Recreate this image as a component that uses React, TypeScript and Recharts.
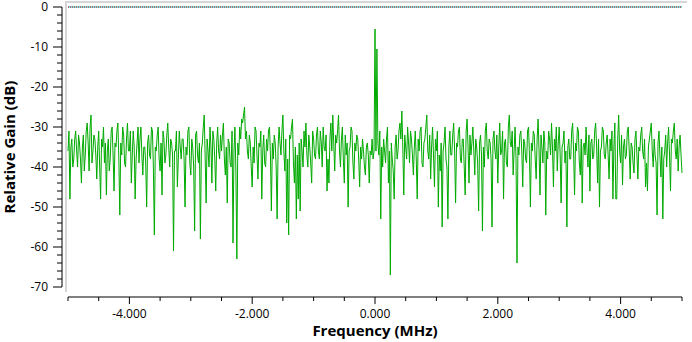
import { LineChart, Line, XAxis, YAxis, ReferenceLine } from "recharts";

// FFT bins span -5 .. +5 MHz, 641 bins
const FREQ_START = -5;
const FREQ_END = 5;

const GAIN_DB = [
  -36, -31, -48, -35, -33, -40, -38, -33, -31, -36, -40, -32, -34, -38, -44, -35, -32, -41, -37, -31, -29, -34, -41, -30, -27, -39, -36, -32, -33, -37, -43, -35, -31, -40, -48, -33, -35, -30, -39, -34,
  -47, -36, -33, -41, -38, -31, -30, -37, -46, -34, -35, -31, -29, -38, -52, -34, -37, -30, -32, -39, -40, -33, -29, -36, -36, -31, -44, -37, -31, -35, -48, -38, -34, -30, -39, -33, -30, -37, -42, -35,
  -35, -39, -50, -34, -32, -37, -38, -30, -31, -40, -57, -35, -36, -32, -30, -38, -41, -34, -47, -31, -33, -39, -37, -32, -29, -35, -40, -33, -34, -37, -61, -36, -36, -31, -45, -38, -31, -35, -38, -33,
  -33, -38, -50, -35, -37, -31, -30, -39, -42, -33, -35, -40, -56, -32, -31, -37, -39, -34, -58, -36, -34, -30, -27, -38, -49, -33, -36, -40, -30, -35, -44, -31, -33, -38, -46, -34, -30, -36, -38, -32,
  -36, -32, -29, -38, -42, -35, -49, -33, -34, -39, -40, -31, -59, -36, -30, -41, -63, -34, -37, -30, -33, -28, -29, -27, -25, -33, -31, -36, -38, -32, -34, -40, -45, -35, -39, -30, -31, -37, -43, -34,
  -35, -31, -48, -36, -32, -39, -40, -33, -36, -31, -30, -37, -51, -34, -38, -32, -34, -40, -53, -35, -30, -34, -37, -31, -27, -36, -41, -33, -54, -38, -57, -32, -33, -30, -28, -39, -44, -35, -53, -37,
  -48, -34, -51, -33, -36, -40, -31, -35, -29, -37, -40, -32, -35, -39, -44, -31, -33, -37, -38, -32, -30, -36, -38, -31, -34, -40, -30, -35, -36, -32, -46, -38, -44, -33, -29, -36, -27, -34, -41, -32,
  -34, -31, -27, -36, -40, -33, -30, -38, -44, -32, -37, -34, -50, -36, -35, -30, -31, -39, -43, -34, -36, -32, -33, -38, -45, -35, -38, -33, -36, -40, -42, -35, -34, -37, -44, -36, -37, -33, -38, -36,
  -5.5, -36, -10.5, -34, -37, -31, -53, -35, -40, -33, -36, -39, -33, -30, -44, -36, -67, -34, -38, -41, -48, -35, -32, -38, -36, -31, -29, -33, -26, -35, -47, -32, -35, -38, -30, -34, -39, -31, -33, -37,
  -42, -35, -31, -38, -48, -33, -36, -31, -30, -39, -40, -34, -33, -30, -27, -36, -38, -32, -43, -35, -30, -37, -45, -33, -36, -31, -50, -37, -41, -34, -55, -36, -34, -30, -38, -40, -53, -35, -31, -37,
  -37, -32, -29, -36, -49, -34, -35, -31, -30, -38, -39, -33, -33, -40, -47, -31, -28, -35, -44, -32, -37, -34, -30, -36, -42, -33, -35, -39, -51, -34, -32, -37, -56, -35, -40, -31, -29, -36, -38, -33,
  -34, -38, -55, -33, -31, -36, -38, -32, -44, -35, -29, -37, -36, -31, -48, -34, -33, -39, -40, -30, -27, -34, -35, -31, -42, -36, -30, -38, -64, -35, -37, -32, -31, -36, -45, -33, -34, -38, -39, -31,
  -30, -37, -50, -34, -36, -31, -32, -38, -43, -33, -28, -36, -47, -32, -35, -39, -31, -34, -52, -36, -38, -31, -33, -37, -29, -35, -45, -33, -36, -30, -41, -34, -30, -37, -49, -35, -34, -31, -39, -36,
  -55, -35, -33, -38, -38, -31, -29, -36, -47, -34, -36, -30, -31, -39, -42, -33, -49, -35, -34, -37, -30, -36, -40, -32, -46, -34, -33, -38, -37, -31, -29, -35, -44, -33, -50, -36, -35, -30, -31, -37,
  -38, -34, -32, -37, -43, -33, -36, -31, -48, -35, -29, -48, -48, -33, -27, -36, -39, -32, -44.5, -35, -33, -38, -37, -31, -30, -36, -43, -34, -35, -39, -41.5, -33, -31, -37, -43, -35, -36, -32, -30, -36,
  -38, -33, -45, -39, -46, -35, -33, -31, -29, -36, -40, -33, -37, -39, -52, -34, -31, -37, -42.5, -35, -53, -38, -36, -32, -40, -34, -30, -37, -46, -33, -34, -31, -29, -36, -38, -33, -41, -35, -32, -37, -41.5,
];

const X_TICKS = [
  -5, -4.5, -4, -3.5, -3, -2.5, -2, -1.5, -1, -0.5, 0, 0.5, 1, 1.5, 2, 2.5, 3, 3.5, 4, 4.5, 5,
];
const X_LABELS = [-4, -2, 0, 2, 4];

const Y_TICKS = [
  0, -2, -4, -6, -8, -10, -12, -14, -16, -18, -20, -22, -24, -26, -28, -30, -32, -34, -36,
  -38, -40, -42, -44, -46, -48, -50, -52, -54, -56, -58, -60, -62, -64, -66, -68, -70,
];

const data = GAIN_DB.map((gain, i) => ({
  freq: FREQ_START + (i * (FREQ_END - FREQ_START)) / (GAIN_DB.length - 1),
  gain,
}));

const tickFont = { fontFamily: "'Open Sans', sans-serif", fontSize: 12, fill: "#000" };

const XTick = (props: any) => {
  const { x, y, payload } = props;
  const major = X_LABELS.includes(payload.value);
  return (
    <g>
      <line x1={x} x2={x} y1={y + 10} y2={y + (major ? 17 : 14)} stroke="#000" />
      {major && (
        <text x={x} y={y + 31} textAnchor="middle" {...tickFont}>
          {payload.value.toFixed(3)}
        </text>
      )}
    </g>
  );
};

const YTick = (props: any) => {
  const { x, y, payload } = props;
  const major = payload.value % 10 === 0;
  return (
    <g>
      <line x1={x - 6} x2={x - (major ? 15 : 11)} y1={y} y2={y} stroke="#000" />
      {major && (
        <text x={x - 20} y={y + 4} textAnchor="end" {...tickFont}>
          {payload.value}
        </text>
      )}
    </g>
  );
};

export default function App() {
  return (
    <div style={{ position: "absolute", left: 0, top: 0, width: 692, height: 342, background: "#fff" }}>
      <div
        style={{
          position: "absolute",
          left: 65,
          top: 1,
          width: 622,
          height: 291,
          boxSizing: "border-box",
          borderLeft: "2px solid #d6d6d6",
          borderTop: "2px solid #d6d6d6",
        }}
      />
      <div style={{ position: "absolute", left: 0, top: 0 }}>
        <LineChart width={692} height={342} data={data} margin={{ top: 7, right: 10, left: 0, bottom: 0 }}>
          <XAxis
            type="number"
            dataKey="freq"
            domain={[FREQ_START, FREQ_END]}
            ticks={X_TICKS}
            interval={0}
            height={55}
            tickSize={0}
            tickMargin={0}
            tickLine={false}
            tick={<XTick />}
            axisLine={{ stroke: "#000", transform: "translate(0,10)" } as any}
            label={{
              value: "Frequency (MHz)",
              position: "insideBottom",
              offset: 6,
              style: { fontFamily: "'Open Sans', sans-serif", fontSize: 15, fontWeight: 700, fill: "#000" },
            }}
          />
          <YAxis
            type="number"
            domain={[-70, 0]}
            ticks={Y_TICKS}
            interval={0}
            width={68}
            tickSize={0}
            tickMargin={0}
            tickLine={false}
            tick={<YTick />}
            axisLine={{ stroke: "#000", transform: "translate(-6,0)" } as any}
            label={{
              value: "Relative Gain (dB)",
              angle: -90,
              position: "insideLeft",
              offset: 10,
              style: {
                textAnchor: "middle",
                fontFamily: "'Open Sans', sans-serif",
                fontSize: 15,
                fontWeight: 700,
                fill: "#000",
              },
            }}
          />
          <Line
            type="linear"
            dataKey="gain"
            stroke="#00aa00"
            strokeWidth={1}
            dot={false}
            isAnimationActive={false}
          />
          <ReferenceLine y={0} stroke="#00c8c8" strokeWidth={1} />
          <ReferenceLine y={0} stroke="#d40000" strokeWidth={1} strokeDasharray="1 1" />
        </LineChart>
      </div>
    </div>
  );
}
